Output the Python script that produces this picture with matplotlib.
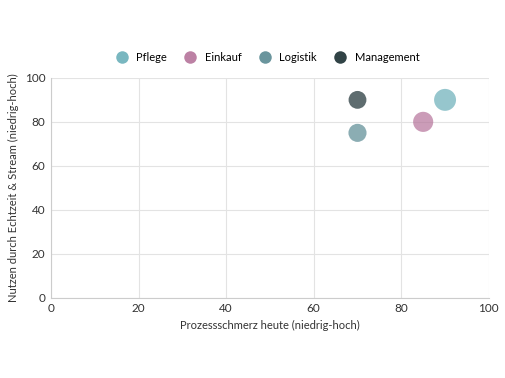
import matplotlib
matplotlib.use("Agg")
import matplotlib.pyplot as plt
from matplotlib.lines import Line2D

plt.rcParams['font.family'] = ['Lato', 'DejaVu Sans']

# Data
names = ["Pflege", "Einkauf", "Logistik", "Management"]
schmerz = [90, 85, 70, 70]
nutzen = [90, 80, 75, 90]
groesse = [250, 210, 170, 165]
farben = ["#6aafb9", "#b5739a", "#5a8a93", "#1a2e32"]

fig = plt.figure(figsize=(5.05, 3.78), dpi=100)
ax = fig.add_axes([0.101, 0.212, 0.867, 0.582])

for n, x, y, s, c in zip(names, schmerz, nutzen, groesse, farben):
    ax.scatter(x, y, s=s, color=c, alpha=0.7, edgecolors='none', label=n, zorder=3)

ax.set_xlim(0, 100)
ax.set_ylim(0, 100)
ax.set_xticks([0, 20, 40, 60, 80, 100])
ax.set_yticks([0, 20, 40, 60, 80, 100])
ax.grid(color="#e3e3e3", linewidth=0.8, zorder=0)
for sp in ["top", "right"]:
    ax.spines[sp].set_visible(False)
for sp in ["left", "bottom"]:
    ax.spines[sp].set_color("#cccccc")
    ax.spines[sp].set_linewidth(0.8)
ax.tick_params(length=0, labelsize=8.5, colors="#333333", pad=4)

ax.set_xlabel("Prozessschmerz heute (niedrig-hoch)", fontsize=8, color="#333333")
ax.set_ylabel("Nutzen durch Echtzeit & Stream (niedrig-hoch)", fontsize=8, color="#333333")

handles = [Line2D([], [], marker='o', linestyle='none', markersize=9,
                  markerfacecolor=c, markeredgecolor='none', alpha=0.9) for c in farben]
fig.legend(handles, names, loc='center', bbox_to_anchor=(0.525, 0.848), ncol=4,
           frameon=False, fontsize=8, handletextpad=0.3, columnspacing=1.1)

fig.savefig("out.png", dpi=100)
